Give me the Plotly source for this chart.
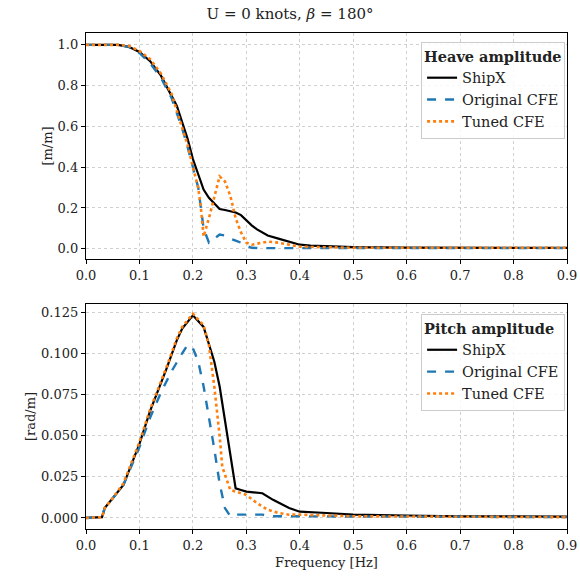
import plotly.graph_objects as go
from plotly.subplots import make_subplots

# ---- Heave amplitude data ----
heave_x_shipx = [0.0, 0.06, 0.08, 0.10, 0.12, 0.14, 0.15, 0.16, 0.17, 0.18, 0.19, 0.20, 0.21, 0.22, 0.23,
                 0.24, 0.25, 0.26, 0.27, 0.28, 0.29, 0.30, 0.31, 0.32, 0.33, 0.34, 0.36, 0.38, 0.40, 0.42,
                 0.45, 0.50, 0.60, 0.70, 0.80, 0.90]
heave_shipx = [1.0, 1.0, 0.99, 0.965, 0.92, 0.85, 0.80, 0.75, 0.70, 0.62, 0.54, 0.44, 0.36, 0.29, 0.25,
               0.22, 0.195, 0.19, 0.185, 0.178, 0.165, 0.14, 0.115, 0.095, 0.078, 0.065, 0.05, 0.035, 0.02, 0.015,
               0.012, 0.008, 0.006, 0.005, 0.004, 0.004]

heave_x_orig = [0.0, 0.06, 0.08, 0.10, 0.12, 0.14, 0.16, 0.18, 0.19, 0.20, 0.21, 0.215, 0.22, 0.23, 0.24,
                0.25, 0.26, 0.27, 0.28, 0.29, 0.30, 0.31, 0.33, 0.40, 0.50, 0.90]
heave_orig = [1.0, 1.0, 0.99, 0.96, 0.91, 0.84, 0.74, 0.59, 0.50, 0.40, 0.30, 0.20, 0.10, 0.03, 0.05,
              0.07, 0.065, 0.05, 0.04, 0.03, 0.015, 0.005, 0.003, 0.003, 0.003, 0.003]

heave_x_tuned = [0.0, 0.06, 0.08, 0.10, 0.12, 0.14, 0.16, 0.18, 0.19, 0.20, 0.21, 0.215, 0.22, 0.23, 0.24,
                 0.25, 0.26, 0.27, 0.28, 0.29, 0.30, 0.31, 0.32, 0.34, 0.36, 0.38, 0.40, 0.50, 0.90]
heave_tuned = [1.0, 1.0, 0.995, 0.97, 0.93, 0.86, 0.76, 0.60, 0.51, 0.40, 0.30, 0.20, 0.06, 0.15, 0.26,
               0.355, 0.33, 0.26, 0.15, 0.08, 0.03, 0.02, 0.025, 0.035, 0.03, 0.02, 0.01, 0.005, 0.005]

# ---- Pitch amplitude data ----
pitch_x_shipx = [0.0, 0.03, 0.035, 0.05, 0.07, 0.10, 0.12, 0.15, 0.17, 0.18, 0.20, 0.22, 0.24, 0.25, 0.26,
                 0.27, 0.28, 0.29, 0.30, 0.33, 0.35, 0.38, 0.40, 0.45, 0.50, 0.60, 0.70, 0.90]
pitch_shipx = [0.0, 0.0005, 0.006, 0.012, 0.02, 0.045, 0.065, 0.09, 0.108, 0.115, 0.123, 0.116, 0.095, 0.08, 0.06,
               0.038, 0.018, 0.017, 0.016, 0.015, 0.011, 0.006, 0.0038, 0.003, 0.002, 0.0015, 0.001, 0.0008]

pitch_x_orig = [0.0, 0.03, 0.035, 0.05, 0.07, 0.10, 0.12, 0.14, 0.16, 0.18, 0.19, 0.20, 0.21, 0.22, 0.23, 0.24,
                0.25, 0.26, 0.27, 0.28, 0.30, 0.33, 0.35, 0.40, 0.90]
pitch_orig = [0.0, 0.0005, 0.006, 0.012, 0.02, 0.043, 0.061, 0.076, 0.089, 0.100, 0.105, 0.103, 0.095, 0.08, 0.062,
              0.042, 0.021, 0.006, 0.001, 0.002, 0.002, 0.002, 0.001, 0.001, 0.0005]

pitch_x_tuned = [0.0, 0.03, 0.035, 0.05, 0.07, 0.10, 0.12, 0.15, 0.17, 0.18, 0.20, 0.22, 0.23, 0.24, 0.25,
                 0.255, 0.27, 0.28, 0.30, 0.32, 0.34, 0.36, 0.38, 0.40, 0.50, 0.90]
pitch_tuned = [0.0, 0.0005, 0.006, 0.012, 0.021, 0.046, 0.066, 0.091, 0.109, 0.116, 0.124, 0.117, 0.105, 0.08, 0.05,
               0.031, 0.017, 0.016, 0.014, 0.009, 0.005, 0.003, 0.002, 0.002, 0.001, 0.0005]

series_names = ["ShipX", "Original CFE", "Tuned CFE"]
colors = ["#000000", "#1f77b4", "#ff7f0e"]
dashes = ["solid", "dash", "dot"]
widths = [2.2, 2.4, 2.6]

x_ticks = [0.0, 0.1, 0.2, 0.3, 0.4, 0.5, 0.6, 0.7, 0.8, 0.9]
heave_ticks = [0.0, 0.2, 0.4, 0.6, 0.8, 1.0]
pitch_ticks = [0.0, 0.025, 0.05, 0.075, 0.1, 0.125]

FONT = "DejaVu Serif"
TXT = "#222222"

fig = make_subplots(rows=2, cols=1, vertical_spacing=0.09)

heave_sets = [(heave_x_shipx, heave_shipx), (heave_x_orig, heave_orig), (heave_x_tuned, heave_tuned)]
pitch_sets = [(pitch_x_shipx, pitch_shipx), (pitch_x_orig, pitch_orig), (pitch_x_tuned, pitch_tuned)]

for i, (xx, yy) in enumerate(heave_sets):
    fig.add_trace(go.Scatter(x=xx, y=yy, mode="lines", name=series_names[i],
                             line=dict(color=colors[i], dash=dashes[i], width=widths[i]),
                             legend="legend", legendgroup=f"h{i}"), row=1, col=1)
for i, (xx, yy) in enumerate(pitch_sets):
    fig.add_trace(go.Scatter(x=xx, y=yy, mode="lines", name=series_names[i],
                             line=dict(color=colors[i], dash=dashes[i], width=widths[i]),
                             legend="legend2", legendgroup=f"p{i}"), row=2, col=1)

axis_common = dict(showline=True, linecolor="black", linewidth=1.3, mirror=True,
                   ticks="outside", ticklen=4, tickcolor="black", automargin=False,
                   showgrid=True, gridcolor="#d0d0d0", griddash="dot", gridwidth=1,
                   zeroline=False, tickfont=dict(family=FONT, size=13, color=TXT))

fig.update_xaxes(range=[0, 0.9], tickvals=x_ticks, ticktext=[f"{v:.1f}" for v in x_ticks], **axis_common)
fig.update_yaxes(**axis_common)
fig.update_yaxes(range=[-0.05, 1.058], tickvals=heave_ticks, ticktext=[f"{v:.1f}" for v in heave_ticks],
                 title=dict(text="[m/m]", font=dict(family=FONT, size=13, color=TXT), standoff=2), row=1, col=1)
fig.update_yaxes(range=[-0.0067, 0.1299], tickvals=pitch_ticks, ticktext=[f"{v:.3f}" for v in pitch_ticks],
                 title=dict(text="[rad/m]", font=dict(family=FONT, size=13, color=TXT), standoff=2), row=2, col=1)
fig.update_xaxes(title=dict(text="Frequency [Hz]", font=dict(family=FONT, size=13, color=TXT), standoff=6),
                 row=2, col=1)

fig.update_yaxes(domain=[0.5444, 1.0], row=1, col=1)
fig.update_yaxes(domain=[0.0, 0.4536], row=2, col=1)

legend_common = dict(xanchor="right", yanchor="top", bgcolor="rgba(255,255,255,0.85)",
                     bordercolor="#cccccc", borderwidth=1,
                     font=dict(family=FONT, size=14.5, color=TXT), tracegroupgap=0)

fig.update_layout(
    width=580, height=582,
    margin=dict(l=86, r=13, t=33, b=53, autoexpand=False),
    plot_bgcolor="white", paper_bgcolor="white",
    title=dict(text="U = 0 knots, <i>β</i> = 180°", x=0.5, xanchor="center", y=0.976, yanchor="middle",
               font=dict(family=FONT, size=15, color=TXT)),
    legend=dict(x=0.996, y=0.982, title=dict(text="<b>Heave amplitude</b>", font=dict(family=FONT, size=14.5, color=TXT)),
                **legend_common),
    legend2=dict(x=0.996, y=0.4335, title=dict(text="<b>Pitch amplitude</b>", font=dict(family=FONT, size=14.5, color=TXT)),
                 **legend_common),
    showlegend=True,
)

fig.write_html("out.html", config={"displayModeBar": False},
               post_script="document.body.style.margin='0';document.body.style.overflow='hidden';")
